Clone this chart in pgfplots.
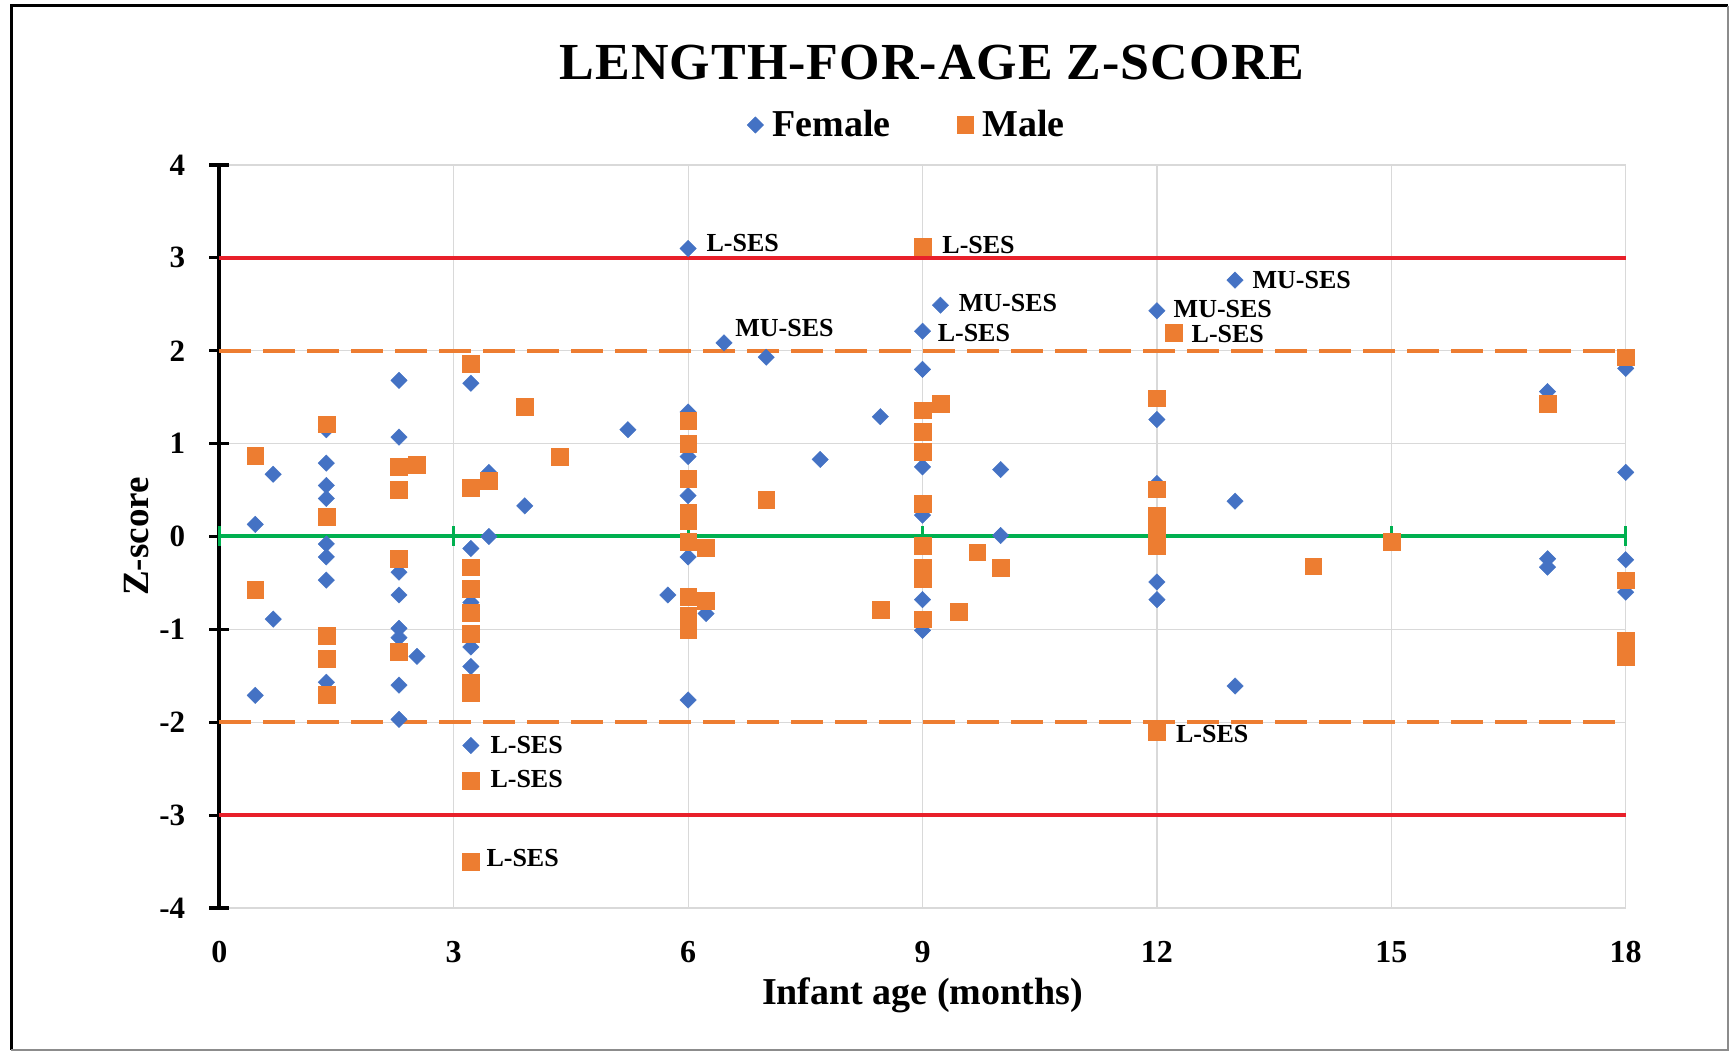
\documentclass[border=0pt]{standalone}
\usepackage{fontspec}
\setmainfont{Liberation Serif}
\usepackage{pgfplots}
\pgfplotsset{compat=1.18}
\definecolor{fblue}{HTML}{4472C4}
\definecolor{morange}{HTML}{ED7D31}
\definecolor{zred}{HTML}{E8202A}
\definecolor{zgreen}{HTML}{00B050}
\definecolor{gridgray}{HTML}{D9D9D9}
\begin{document}
\begin{tikzpicture}
\path[use as bounding box] (-109.65pt,-72pt) rectangle (755.35pt,454pt);
\begin{axis}[
  at={(0,0)}, anchor=south west,
  scale only axis, width=703.2pt, height=371.5pt,
  xmin=0, xmax=18, ymin=-4, ymax=4,
  xtick={0,3,...,18}, ytick={-4,-3,...,4},
  axis x line*=bottom, axis y line*=left,
  x axis line style={draw=none},
  y axis line style={line width=2.2pt, black},
  grid=major, major grid style={gridgray, line width=0.6pt},
  xtick style={draw=none},
  ytick style={line width=1.6pt, black},
  major tick length=10pt, tick align=center,
  clip=false,
  /pgf/number format/assume math mode=true,
  yticklabel style={font=\bfseries\fontsize{15.5}{18}\selectfont, xshift=-8.5pt},
  xticklabel style={font=\bfseries\fontsize{16}{18}\selectfont, yshift=-8.3pt},
  every axis x label/.style={at={(axis description cs:0.5,-0.1171)}, anchor=center, font=\bfseries\fontsize{19}{22}\selectfont},
  every axis y label/.style={at={(axis description cs:-0.059,0.5)}, rotate=90, anchor=center, font=\bfseries\fontsize{18.5}{22}\selectfont},
  xlabel={Infant age (months)}, ylabel={Z-score},
  legend style={at={(axis description cs:0.4897,1.0538)}, anchor=center, draw=none, fill=none,
    font=\bfseries\fontsize{19}{22}\selectfont, legend columns=2,
    /tikz/every odd column/.append style={column sep=2.5pt},
    /tikz/every even column/.append style={column sep=31pt}},
]
% reference lines
\addplot[forget plot, zred, line width=2pt] coordinates {(0,3) (18,3)};
\addplot[forget plot, zred, line width=2pt] coordinates {(0,-3) (18,-3)};
\addplot[forget plot, morange, line width=2pt, dash pattern=on 16pt off 6pt] coordinates {(0,2) (18,2)};
\addplot[forget plot, morange, line width=2pt, dash pattern=on 16pt off 6pt] coordinates {(0,-2) (18,-2)};
\addplot[forget plot, zgreen, line width=2pt, mark=|, mark size=5pt, mark options={line width=1.5pt, solid}]
  coordinates {(0,0) (3,0) (6,0) (9,0) (12,0) (15,0) (18,0)};
% Female
\addplot[only marks, mark=square*, mark size=2.9pt, mark options={rotate=45, fill=fblue, draw=fblue, line width=0.2pt}]
coordinates {
(0.46,0.13) (0.69,0.67) (0.46,-1.71) (0.69,-0.89)
(1.37,1.15) (1.37,0.79) (1.37,0.55) (1.37,0.41) (1.37,-0.08) (1.37,-0.22) (1.37,-0.47) (1.37,-1.57)
(2.30,1.68) (2.30,1.07) (2.30,-0.385) (2.30,-0.63) (2.30,-0.99) (2.30,-1.09) (2.30,-1.60) (2.30,-1.97)
(2.53,-1.29)
(3.22,1.65) (3.22,-0.13) (3.22,-0.71) (3.22,-1.19) (3.22,-1.40) (3.22,-2.25)
(3.45,0.69) (3.45,0.0) (3.91,0.33) (5.23,1.15) (5.74,-0.63)
(6.0,3.10) (6.0,1.34) (6.0,0.86) (6.0,0.44) (6.0,-0.22) (6.0,-1.76) (6.23,-0.83)
(6.46,2.085) (7.0,1.93) (7.69,0.83) (8.46,1.29)
(9.0,2.21) (9.0,1.80) (9.0,0.75) (9.0,0.23) (9.0,-0.68) (9.0,-1.01) (9.23,2.49)
(10.0,0.72) (10.0,0.01)
(12.0,2.43) (12.0,1.26) (12.0,0.57) (12.0,-0.49) (12.0,-0.68)
(13.0,2.76) (13.0,0.38) (13.0,-1.61)
(17.0,1.56) (17.0,-0.24) (17.0,-0.33)
(18.0,1.81) (18.0,0.69) (18.0,-0.25) (18.0,-0.60)
};
\addlegendentry{Female}
% Male
\addplot[only marks, mark=square*, mark size=4.2pt, mark options={fill=morange, draw=morange, line width=0.2pt}]
coordinates {
(0.46,0.87) (0.46,-0.57)
(1.37,1.21) (1.37,0.21) (1.37,-1.07) (1.37,-1.32) (1.37,-1.70)
(2.30,0.755) (2.30,0.50) (2.30,-0.24) (2.30,-1.24) (2.53,0.77)
(3.22,1.86) (3.22,0.525) (3.22,-0.33) (3.22,-0.56) (3.22,-0.82) (3.22,-1.05) (3.22,-1.57) (3.22,-1.68) (3.22,-2.63) (3.22,-3.50)
(3.45,0.60) (3.91,1.40) (4.36,0.86)
(6.0,1.25) (6.0,1.00) (6.0,0.62) (6.0,0.26) (6.0,0.17) (6.0,-0.06) (6.0,-0.65) (6.0,-0.85) (6.0,-1.00)
(6.23,-0.12) (6.23,-0.69) (7.0,0.40) (8.46,-0.79)
(9.0,3.12) (9.0,1.36) (9.0,1.125) (9.0,0.91) (9.0,0.35) (9.0,-0.10) (9.0,-0.33) (9.0,-0.46) (9.0,-0.89)
(9.23,1.43) (9.46,-0.81) (9.7,-0.17) (10.0,-0.34)
(12.0,1.49) (12.0,0.51) (12.0,0.23) (12.0,0.06) (12.0,-0.10) (12.0,-2.10) (12.22,2.19)
(14.0,-0.32) (15.0,-0.06) (17.0,1.43)
(18.0,1.93) (18.0,-0.47) (18.0,-1.12) (18.0,-1.30)
};
\addlegendentry{Male}
% data labels
\begin{scope}[every node/.style={anchor=west, inner sep=0pt, font=\bfseries\fontsize{13}{15}\selectfont}]
\node at (axis cs:6.232,3.157) {L-SES};
\node at (axis cs:9.25,3.14) {L-SES};
\node at (axis cs:9.46,2.51) {MU-SES};
\node at (axis cs:9.19,2.19) {L-SES};
\node at (axis cs:6.60,2.24) {MU-SES};
\node at (axis cs:13.22,2.76) {MU-SES};
\node at (axis cs:12.21,2.445) {MU-SES};
\node at (axis cs:12.44,2.18) {L-SES};
\node at (axis cs:12.24,-2.13) {L-SES};
\node at (axis cs:3.466,-2.247) {L-SES};
\node at (axis cs:3.466,-2.61) {L-SES};
\node at (axis cs:3.415,-3.46) {L-SES};
\end{scope}
\node[font=\bfseries\fontsize{26}{30}\selectfont] at (axis description cs:0.5068,1.1373) {\addfontfeatures{LetterSpace=2}LENGTH-FOR-AGE Z-SCORE};
\end{axis}
\draw[line width=1.5pt, black] (-103.9pt,-71pt) -- (-103.9pt,451pt) -- (754.35pt,451pt);
\draw[line width=0.8pt, black!45] (754.35pt,451pt) -- (754.35pt,-71pt) -- (-103.9pt,-71pt);
\end{tikzpicture}
\end{document}
